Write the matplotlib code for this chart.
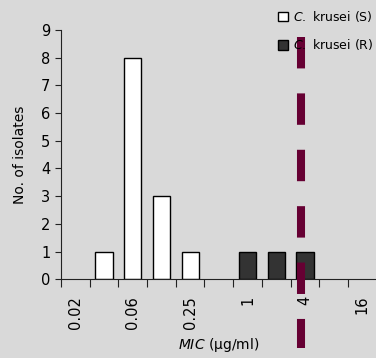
"""MIC distribution histogram for C. krusei isolates."""

import matplotlib

matplotlib.use("Agg")

import matplotlib.pyplot as plt
from matplotlib.patches import Patch

# MIC classes (ug/ml), one bar slot each
mic_classes = ["0.02", "0.03", "0.06", "0.125", "0.25", "0.5", "1", "2", "4", "8", "16"]
susceptible = [0, 1, 8, 3, 1, 0, 0, 0, 0, 0, 0]
resistant = [0, 0, 0, 0, 0, 0, 1, 1, 1, 0, 0]
breakpoint_pos = 8.36  # slot position of the dashed breakpoint line
yticks = list(range(0, 10))

BG = "#d9d9d9"
DARK = "#333333"
MAROON = "#660033"

plt.rcParams.update({"font.family": "DejaVu Sans", "font.size": 10.5})

fig = plt.figure(figsize=(3.76, 3.58), dpi=100, facecolor=BG)
ax = fig.add_axes([0.162, 0.22, 0.84, 0.696], facecolor=BG)


def draw_series(values, color):
    """Bars for the non-empty MIC classes of one series."""
    xs = [i + 0.5 for i, v in enumerate(values) if v > 0]
    hs = [v for v in values if v > 0]
    ax.bar(xs, hs, width=0.6, color=color, edgecolor="black", linewidth=1.0, zorder=2)


draw_series(susceptible, "white")
draw_series(resistant, DARK)

centers = [i + 0.5 for i in range(len(mic_classes))]
ax.set_xlim(0, len(mic_classes))
ax.set_ylim(0, 9)
ax.set_yticks(yticks)
ax.set_xticks(range(len(mic_classes) + 1))
ax.set_xticklabels([])
ax.set_xticks(centers[::2], minor=True)
ax.set_xticklabels(mic_classes[::2], minor=True, rotation=90)
ax.tick_params(axis="x", which="minor", length=0, pad=12)
ax.tick_params(axis="x", which="major", length=6, direction="out", color="#222222")
ax.tick_params(axis="y", length=4, direction="out", color="#222222")

for side in ("top", "right"):
    ax.spines[side].set_visible(False)
for side in ("left", "bottom"):
    ax.spines[side].set_color("#222222")

ax.set_ylabel("No. of isolates", fontsize=10, labelpad=10)
ax.set_xlabel(r"$\it{MIC}$ (µg/ml)", fontsize=10, labelpad=5)

# resistance breakpoint, runs past the axes like in the source
ax.plot([breakpoint_pos, breakpoint_pos], [8.75, -2.48], color=MAROON,
        linewidth=5.8, linestyle=(0, (3.9, 3.1)), solid_capstyle="butt",
        dash_capstyle="butt", clip_on=False, zorder=5)

handles = [
    Patch(facecolor="white", edgecolor="black", linewidth=1.0),
    Patch(facecolor=DARK, edgecolor="black", linewidth=1.0),
]
labels = [r"$\it{C.}$ krusei (S)", r"$\it{C.}$ krusei (R)"]
fig.legend(handles, labels, loc="upper left", bbox_to_anchor=(0.715, 1.0),
           frameon=False, fontsize=9, handlelength=0.8, handleheight=0.8,
           handletextpad=0.4, labelspacing=1.1, borderaxespad=0.3)

fig.savefig("out.png", dpi=100, facecolor=BG)
